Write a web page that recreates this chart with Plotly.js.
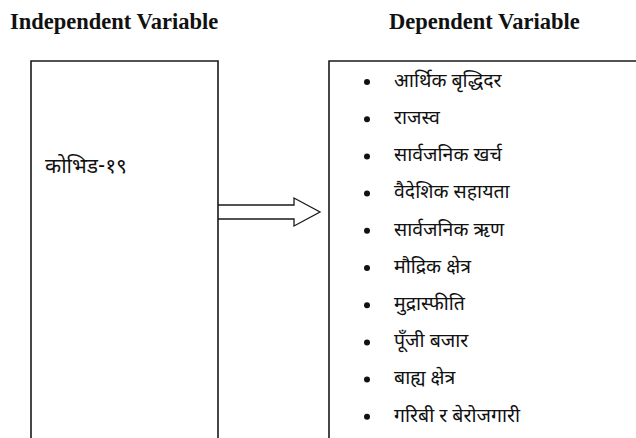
<!DOCTYPE html>
<html><head><meta charset="utf-8">
<script src="https://cdn.plot.ly/plotly-3.0.1.min.js"></script>
<style>body{margin:0;background:#fff}#c{width:636px;height:438px}</style>
</head><body><div id="c"></div>
<script>
const headers = ["Independent Variable", "Dependent Variable"];
const independent = ["कोभिड-१९"];
const dependent = ["आर्थिक बृद्धिदर","राजस्व","सार्वजनिक खर्च","वैदेशिक सहायता","सार्वजनिक ऋण","मौद्रिक क्षेत्र","मुद्रास्फीति","पूँजी बजार","बाह्य क्षेत्र","गरिबी र बेरोजगारी"];
const rowIdx = dependent.map((d,i)=>i);

const devFont = {family:"Noto Sans Devanagari, Noto Sans, Lohit Devanagari, FreeSans, sans-serif", size:19.5, color:"#111"};
const lineC = "#1a1a1a";

const traces = [
  {x: dependent.map(()=>367), y: rowIdx, mode:"markers", xaxis:"x", yaxis:"y2",
   marker:{symbol:"circle", size:6, color:"#111"}, hoverinfo:"skip", showlegend:false},
  {x: dependent.map(()=>394), y: rowIdx, text: dependent, mode:"text", textposition:"middle right",
   xaxis:"x", yaxis:"y2", textfont: devFont, hoverinfo:"skip", showlegend:false},
  {x:[45], y:[168], text: independent, mode:"text", textposition:"middle right",
   xaxis:"x", yaxis:"y", textfont: Object.assign({}, devFont, {size:21}), hoverinfo:"skip", showlegend:false}
];

const serif = {family:"Liberation Serif", size:22.5, color:"#111"};
const layout = {
  width:636, height:438, margin:{l:0,r:0,t:0,b:0},
  paper_bgcolor:"#fff", plot_bgcolor:"#fff", showlegend:false,
  xaxis:{range:[0,636], visible:false, fixedrange:true},
  yaxis:{range:[438,0], visible:false, fixedrange:true},
  yaxis2:{range:[9.57,-2.204], visible:false, overlaying:"y", fixedrange:true},
  shapes:[
    {type:"path", path:"M31,440 L31,61 L218,61 L218,440", line:{color:lineC, width:1.6}, xref:"x", yref:"y"},
    {type:"path", path:"M329,440 L329,61 L640,61", line:{color:lineC, width:1.6}, xref:"x", yref:"y"},
    {type:"path", path:"M218,205 L294,205 L294,198 L320,212 L294,226 L294,219 L218,219", line:{color:lineC, width:1.3}, fillcolor:"rgba(0,0,0,0)", xref:"x", yref:"y"}
  ],
  annotations:[
    {x:114, y:21, xref:"x", yref:"y", text:"<b>"+headers[0]+"</b>", showarrow:false, font:serif},
    {x:484, y:21, xref:"x", yref:"y", text:"<b>"+headers[1]+"</b>", showarrow:false, font:serif}
  ]
};
Plotly.newPlot("c", traces, layout, {staticPlot:true, displayModeBar:false});
</script></body></html>
